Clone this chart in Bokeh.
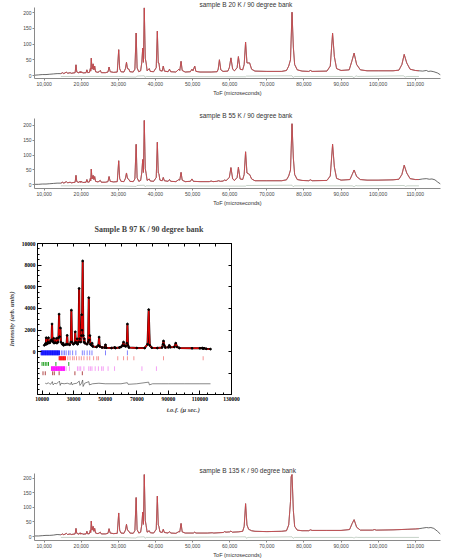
from bokeh.plotting import figure
from bokeh.layouts import column
from bokeh.models import FixedTicker, NumeralTickFormatter, Range1d, LinearAxis
from bokeh.embed import file_html
from bokeh.resources import INLINE

# ------------------------------------------------------------------ data
tof_ticks = [10000, 20000, 30000, 40000, 50000, 60000, 70000, 80000, 90000, 100000, 110000]
count_ticks = [0, 50, 100, 150, 200]

# sample B 20 K  (ToF, counts)
b20_points = [
    (7400, 1), (8500, 2), (9500, 3), (10500, 3), (11500, 4), (12500, 5), (13500, 6), (14500, 6),
    (15000, 9), (15300, 6), (16000, 11), (16300, 7), (17000, 9), (17300, 7), (18350, 9), (18580, 34),
    (18800, 11), (19400, 8), (19700, 13), (19900, 8), (20100, 12), (20400, 8), (21300, 9), (21520, 18),
    (21750, 9), (22200, 10), (22450, 22), (22550, 14), (22700, 55), (22900, 20), (23200, 37), (23400, 18),
    (23620, 30), (23850, 12), (24500, 10), (24800, 12), (25130, 16), (25400, 9), (26500, 9), (27200, 11),
    (27490, 27), (27800, 12), (28700, 10), (29700, 11), (30090, 82), (30350, 22), (30700, 12), (31500, 11),
    (31900, 22), (32190, 42), (32450, 22), (32860, 20), (33100, 12), (34000, 11), (34450, 20), (34790, 135),
    (35050, 24), (35500, 12), (36000, 15), (36300, 40), (36560, 87), (36750, 42), (36980, 215), (37250, 55),
    (37480, 40), (37750, 15), (38320, 22), (38600, 13), (39500, 12), (40200, 25), (40500, 141), (40750, 40),
    (40920, 40), (41200, 16), (41800, 14), (42100, 30), (42400, 14), (43400, 12), (43780, 20), (44100, 12),
    (45500, 11), (46300, 20), (46550, 16), (46890, 45), (47200, 16), (48000, 11), (49400, 12), (49830, 20),
    (50100, 15), (50580, 30), (50900, 13), (52000, 11), (55000, 11), (56600, 12), (56900, 20), (57230, 50),
    (57600, 18), (58200, 13), (59500, 14), (59900, 25), (60330, 56), (60800, 20), (61300, 15), (62000, 25),
    (62340, 60), (62800, 20), (63500, 18), (63900, 35), (64280, 106), (64650, 40), (65370, 40), (65900, 20),
    (66800, 14), (70000, 13), (74000, 13), (75300, 16), (75900, 30), (76380, 50), (76790, 201), (77150, 90),
    (77500, 35), (78200, 18), (79500, 14), (81300, 13), (81750, 16), (82200, 13), (86200, 14), (87100, 30),
    (87720, 134), (88200, 60), (88800, 22), (90000, 16), (92200, 18), (92900, 45), (93520, 71), (94200, 35),
    (95200, 18), (97000, 15), (100000, 15), (104000, 15), (105600, 17), (106400, 35), (107020, 67),
    (107700, 40), (108600, 20), (110000, 16), (111000, 15), (112000, 14), (113000, 16), (113500, 13),
    (114200, 14), (115000, 12), (116000, 8), (116800, 2),
]
b20_diff = [
    (14500, -3), (30000, -3), (34790, -5), (35000, -2), (36980, -1), (37200, -6), (37500, -3),
    (64280, -4), (64500, -2), (76790, -1), (77100, -6), (77500, -3), (93000, -3), (93520, -7),
    (94000, -1), (94500, -3), (106800, -1), (107300, -5), (107800, -3), (111000, -3),
]

# sample B 55 K
b55_points = [
    (7400, 2), (8500, 2), (9500, 3), (10500, 3), (11500, 4), (12500, 5), (13500, 6), (14500, 6),
    (15000, 9), (15300, 6), (16000, 11), (16300, 7), (17000, 9), (17300, 7), (18350, 9), (18580, 32),
    (18800, 11), (19400, 8), (19700, 13), (19900, 8), (20100, 12), (20400, 8), (21300, 9), (21520, 18),
    (21750, 9), (22200, 10), (22450, 22), (22550, 14), (22700, 53), (22900, 20), (23200, 32), (23400, 18),
    (23620, 28), (23850, 12), (24500, 10), (24800, 12), (25130, 15), (25400, 9), (26500, 9), (27200, 11),
    (27490, 28), (27800, 12), (28700, 10), (29700, 11), (30090, 81), (30350, 22), (30700, 12), (31500, 11),
    (31900, 22), (32190, 40), (32450, 22), (32860, 18), (33100, 12), (34000, 11), (34450, 20), (34790, 136),
    (35050, 24), (35500, 12), (36000, 15), (36300, 40), (36560, 85), (36750, 42), (36980, 216), (37250, 55),
    (37480, 38), (37750, 15), (38320, 20), (38600, 13), (39500, 12), (40200, 25), (40500, 143), (40750, 40),
    (40920, 38), (41200, 16), (41800, 14), (42100, 25), (42400, 14), (43400, 12), (43780, 18), (44100, 12),
    (45500, 11), (46300, 18), (46550, 16), (46890, 42), (47200, 16), (48000, 11), (49400, 12), (49830, 20),
    (50200, 12), (52000, 11), (54500, 11), (55000, 13), (55500, 11), (56500, 12), (57000, 14), (57500, 12),
    (58300, 13), (58600, 17), (59000, 14), (59900, 25), (60330, 58), (60800, 20), (61300, 15), (62000, 25),
    (62340, 59), (62800, 20), (63500, 18), (63900, 35), (64280, 111), (64650, 40), (65370, 35), (65900, 20),
    (66800, 14), (70000, 14), (74000, 14), (75300, 17), (75900, 30), (76380, 50), (76790, 205), (77150, 90),
    (77500, 35), (78200, 18), (79500, 15), (81300, 14), (81750, 17), (82200, 14), (86200, 15), (87100, 30),
    (87720, 136), (88200, 60), (88800, 22), (90000, 16), (92400, 18), (93000, 35), (93520, 50), (94200, 28),
    (95200, 18), (97000, 16), (100000, 16), (104000, 17), (105600, 19), (106400, 35), (107020, 66),
    (107700, 40), (108600, 21), (110000, 18), (111000, 18), (112000, 20), (113000, 21), (113800, 19),
    (114500, 20), (115300, 17), (116000, 10), (116800, 3),
]
b55_diff = [
    (14500, -3), (30000, -3), (34790, -5), (35000, -2), (36980, -1), (37200, -6), (37500, -3),
    (64280, -4), (64500, -2), (76790, -1), (77100, -6), (77500, -3), (93000, -3), (93520, -6),
    (94000, -2), (94500, -3), (107000, -2), (107400, -5), (107800, -3), (111000, -3),
]

# sample B 135 K
b135_points = [
    (7400, 2), (8500, 2), (9500, 3), (10500, 4), (11500, 4), (12500, 5), (13500, 7), (14500, 6),
    (15000, 9), (15300, 6), (16000, 11), (16300, 7), (17000, 9), (17300, 7), (18350, 9), (18580, 28),
    (18800, 11), (19400, 8), (19700, 13), (19900, 8), (20100, 12), (20400, 8), (21300, 9), (21520, 18),
    (21750, 9), (22200, 10), (22450, 22), (22550, 14), (22700, 53), (22900, 22), (23200, 35), (23400, 18),
    (23620, 28), (23850, 12), (24500, 10), (24800, 12), (25130, 15), (25400, 9), (26500, 9), (27200, 11),
    (27490, 27), (27800, 12), (28700, 10), (29700, 11), (30090, 81), (30350, 22), (30700, 12), (31500, 11),
    (31900, 22), (32190, 42), (32450, 22), (32860, 18), (33100, 12), (34000, 11), (34450, 20), (34790, 134),
    (35050, 24), (35500, 12), (36000, 15), (36300, 40), (36560, 84), (36750, 42), (36980, 213), (37250, 55),
    (37480, 38), (37750, 15), (38320, 20), (38600, 13), (39500, 12), (40200, 25), (40500, 139), (40750, 40),
    (40920, 35), (41200, 16), (41800, 14), (42100, 25), (42400, 14), (43400, 12), (43780, 17), (44100, 12),
    (45500, 11), (46300, 17), (46550, 16), (46890, 45), (47200, 16), (48000, 12), (50200, 12), (50580, 15),
    (50900, 12), (54000, 12), (55300, 13), (55700, 12), (58300, 14), (58600, 17), (59000, 15), (60000, 16),
    (60330, 19), (60700, 15), (62300, 16), (63500, 18), (63900, 35), (64280, 113), (64650, 40), (65100, 25),
    (65900, 20), (66800, 18), (70000, 17), (74000, 18), (75300, 20), (75900, 40), (76380, 120), (76550, 205),
    (76790, 213), (77150, 90), (77500, 35), (78200, 22), (79500, 20), (81300, 20), (81750, 23), (82200, 21),
    (86000, 21), (90000, 21), (92300, 24), (93000, 45), (93520, 58), (94200, 32), (95200, 22), (98500, 22),
    (99000, 24), (99500, 22), (104000, 23), (108000, 25), (110000, 26), (111000, 27), (112000, 29),
    (113000, 31), (113600, 30), (114200, 31), (115000, 28), (116000, 18), (116800, 8),
]
b135_diff = [
    (14500, -3), (30000, -3), (34790, -5), (35000, -2), (36980, -1), (37200, -6), (37500, -3),
    (64280, -1), (64500, -6), (64900, -3), (76790, -1), (77100, -6), (77500, -3), (93000, -3),
    (93520, -5), (94000, -2), (94500, -3), (111000, -3),
]

# sample B 97 K  (GSAS plot)
b97_points = [
    (11400, 600), (12000, 700), (12400, 800), (12630, 1300), (12900, 700), (13500, 800), (13800, 900),
    (14040, 1300), (14300, 800), (15000, 850), (15500, 1000), (16000, 1100), (16300, 2570), (16600, 1000),
    (17100, 900), (17350, 1250), (17600, 800), (18500, 850), (19150, 1250), (19400, 800), (20000, 900),
    (20400, 1300), (20780, 3480), (21100, 1400), (21630, 2200), (21900, 900), (22800, 700), (23300, 800),
    (23600, 600), (24500, 650), (25500, 700), (25900, 1520), (26200, 700), (27500, 650), (28200, 900),
    (28560, 3850), (28900, 900), (29800, 700), (30700, 800), (31020, 1850), (31300, 900), (31900, 800),
    (32200, 1200), (32500, 700), (33100, 900), (33470, 5850), (33800, 1200), (34500, 900), (34850, 1500),
    (35110, 3430), (35300, 2000), (35720, 8390), (36100, 1500), (36500, 900), (36800, 1200), (37100, 800),
    (38500, 700), (39200, 900), (39580, 5000), (39900, 1100), (40300, 1500), (40600, 700), (41300, 600),
    (41700, 800), (42100, 500), (44500, 450), (45700, 600), (46130, 1360), (46500, 500), (48000, 400),
    (49700, 400), (50170, 650), (50600, 380), (54000, 350), (56000, 400), (56500, 350), (59000, 400),
    (60000, 450), (61000, 600), (61620, 900), (62000, 550), (63000, 500), (63700, 800), (64070, 2570),
    (64400, 600), (65000, 400), (70000, 350), (75000, 350), (76800, 700), (77540, 3900), (78200, 600),
    (79500, 380), (83000, 350), (86000, 400), (86600, 700), (86920, 1000), (87400, 600), (88000, 400),
    (90000, 420), (90590, 600), (91100, 420), (93800, 450), (94690, 800), (95500, 450), (97000, 350),
    (105000, 330), (110000, 330), (111500, 350), (112000, 300), (112600, 330), (114000, 280), (116700, 250),
]
b97_diff = [
    (12000, -2900), (13000, -2950), (14000, -2850), (15000, -3000), (16000, -2900), (16500, -2750),
    (17000, -3050), (18000, -2900), (19000, -2950), (20000, -2850), (21000, -2700), (21500, -3100),
    (22000, -2900), (24000, -2950), (26000, -2900), (28000, -3000), (28600, -2800), (29000, -3050),
    (30000, -2950), (32000, -2900), (33500, -2700), (34000, -3100), (35000, -2900), (35700, -2600),
    (36000, -3200), (37000, -2900), (39600, -2750), (40000, -3050), (42000, -2950), (46000, -2900),
    (50000, -2950), (60000, -2950), (64000, -2850), (64500, -3000), (70000, -2950), (77500, -2800),
    (78000, -3050), (80000, -2950), (90000, -2950), (100000, -2950), (110000, -2950), (116700, -2950),
]

# reflection markers (ToF) for the five phases of the 97 K fit
refl_blue_dense = [9400, 9800, 10200, 10600, 11000, 11400, 11800, 12200, 12600, 13000, 13400, 13800,
                   14200, 14600, 15000, 15400, 15800, 16200, 16600, 17000, 17400, 17800, 18200, 18600,
                   19000, 19400, 19800, 20200, 20600, 21000]
refl_blue = [22220, 23240, 24260, 25280, 26710, 27730, 29360, 31400, 35490, 36710, 38550, 40180,
             41610, 50180, 64060]
refl_red_dense = [20800, 21200, 21600, 22000, 22400, 22800, 23200, 23600, 24000, 24400, 24800]
refl_red = [26310, 27730, 29360, 30380, 31810, 33440, 34870, 36500, 38550, 40180, 42630, 44670,
            45690, 57940, 61620, 64060, 68150, 86930, 112040]
refl_green = [9980, 11000, 12020, 13040, 14060, 18760, 26920]
refl_magenta_dense = [15950, 16350, 16750, 17150, 17550, 17950, 18350, 18750, 19150, 19550, 19950,
                      20350, 20750, 21150, 21550, 21950, 22350, 22750, 23150, 23550, 23950, 24260]
refl_magenta = [25280, 27320, 32430, 33440, 34460, 36500, 39570, 40590, 41610, 43650, 45690,
                47740, 48760, 51820, 55900, 73260, 82450]
refl_brown = [10590, 12020, 16710, 17740, 20800, 30800, 35490]

gsas_xticks = [10000, 30000, 50000, 70000, 90000, 110000, 130000]
gsas_xminor = list(range(5000, 131000, 5000))
gsas_yticks = [0, 2000, 4000, 6000, 8000, 10000]
gsas_yminor = list(range(-3500, 10001, 500))
gsas_frame_xticks = list(range(10000, 131000, 10000))
gsas_frame_yticks = list(range(-2000, 10001, 2000))

# ------------------------------------------------------------------ drawing
SANS = "Liberation Sans"
SERIF = "Liberation Serif"
SHIFT = 3


def unzip(pts):
    return [a for a, b in pts], [b for a, b in pts]


def tof_panel(title, pts, diff_pts, height, top, bottom, ylo, yhi):
    p = figure(width=452 + SHIFT, height=height, output_backend="svg", toolbar_location=None,
               x_range=Range1d(7400, 116800), y_range=Range1d(ylo, yhi),
               min_border_left=12, min_border_right=9, min_border_top=top, min_border_bottom=bottom,
               margin=(0, 0, 0, -SHIFT))
    p.title.text = title
    p.title.text_font = SANS
    p.title.text_font_size = "6.5px"
    p.title.text_font_style = "normal"
    p.title.text_color = "#333333"
    p.title.align = "left"
    p.title.offset = 165
    p.title.standoff = -3
    p.title.vertical_align = "middle"
    p.grid.visible = False
    p.outline_line_color = None
    p.background_fill_color = "white"

    tof, cnt = unzip(pts)
    p.line(tof, cnt, line_color="#2a2a2a", line_width=0.7)
    calc = [(a, b) for a, b in pts if 14500 <= a <= 111000]
    ct, cc = unzip(calc)
    p.line(ct, cc, line_color="#e2474d", line_width=0.8, line_alpha=0.9)
    dt, dc = unzip(diff_pts)
    p.line(dt, dc, line_color="#9fb3a3", line_width=0.6)

    for ax in (p.xaxis[0], p.yaxis[0]):
        ax.axis_line_color = "#8a8a8a"
        ax.major_tick_line_color = "#8a8a8a"
        ax.major_tick_out = 2
        ax.major_tick_in = 0
        ax.minor_tick_line_color = None
        ax.major_label_text_font = SANS
        ax.major_label_text_font_size = "5px"
        ax.major_label_text_color = "#444444"
        ax.major_label_standoff = 1
    p.xaxis.ticker = FixedTicker(ticks=tof_ticks)
    p.xaxis.formatter = NumeralTickFormatter(format="0,0")
    p.xaxis.axis_label = "ToF (microseconds)"
    p.xaxis.axis_label_text_font = SANS
    p.xaxis.axis_label_text_font_size = "5.5px"
    p.xaxis.axis_label_text_font_style = "normal"
    p.xaxis.axis_label_text_color = "#333333"
    p.xaxis.axis_label_standoff = 1
    p.yaxis.ticker = FixedTicker(ticks=count_ticks)
    return p


p1 = tof_panel("sample B 20 K / 90 degree bank", b20_points, b20_diff, 104, 7, 26, -9.5, 216)
p2 = tof_panel("sample B 55 K / 90 degree bank", b55_points, b55_diff, 104, 14, 17, -12, 222.5)
p4 = tof_panel("sample B 135 K / 90 degree bank", b135_points, b135_diff, 100, 13, 14, -13.6, 216.7)

# ---- GSAS style panel
p3 = figure(width=240, height=252, output_backend="svg", toolbar_location=None,
            x_range=Range1d(7100, 130000), y_range=Range1d(-3940, 10000),
            min_border_left=37, min_border_right=2, min_border_top=35, min_border_bottom=66)
p3.grid.visible = False
p3.outline_line_color = "black"
p3.outline_line_width = 1
p3.title.text = "Sample B 97 K / 90 degree bank"
p3.title.text_font = SERIF
p3.title.text_font_size = "8px"
p3.title.text_font_style = "bold"
p3.title.align = "left"
p3.title.offset = 57
p3.title.standoff = 17
p3.title.vertical_align = "middle"

t97, c97 = unzip(b97_points)
p3.line(t97, c97, line_color="#1a0000", line_width=2.0)
p3.line(t97, c97, line_color="#e00000", line_width=1.3)
p3.scatter(t97, c97, size=1.8, color="black")
dt97, dc97 = unzip(b97_diff)
p3.line(dt97, dc97, line_color="#555555", line_width=0.7)


def refl(xs, y0, y1, color, alpha=1.0):
    p3.segment(x0=xs, y0=[y0] * len(xs), x1=xs, y1=[y1] * len(xs),
               line_color=color, line_width=1, line_alpha=alpha)


refl(refl_blue_dense, 130, -320, "#1010ff")
refl(refl_blue, 130, -320, "#3030ff", 0.6)
refl(refl_red_dense, -410, -780, "#ff1010")
refl(refl_red, -410, -780, "#ee5050", 0.6)
refl(refl_green, -940, -1300, "#20a020")
refl(refl_magenta_dense, -1340, -1760, "#ff10ff")
refl(refl_magenta, -1340, -1760, "#ee60ee", 0.6)
refl(refl_brown, -1800, -2160, "#b04848")

xa = p3.xaxis[0]
ya = p3.yaxis[0]
xa.ticker = FixedTicker(ticks=gsas_xticks, minor_ticks=gsas_xminor)
xa.formatter = NumeralTickFormatter(format="0")
ya.ticker = FixedTicker(ticks=gsas_yticks, minor_ticks=gsas_yminor)
ya.formatter = NumeralTickFormatter(format="0")
for ax in (xa, ya):
    ax.axis_line_color = "black"
    ax.major_tick_in = 4
    ax.major_tick_out = 0
    ax.minor_tick_in = 2
    ax.minor_tick_out = 0
    ax.major_label_text_font = SERIF
    ax.major_label_text_font_size = "5.5px"
    ax.major_label_text_font_style = "bold"
    ax.major_label_text_color = "black"
    ax.major_label_standoff = 2
ya.axis_label = "Intensity (arb. units)"
ya.axis_label_text_font = SERIF
ya.axis_label_text_font_size = "6.5px"
ya.axis_label_text_font_style = "bold italic"
ya.axis_label_standoff = 4
# x title sits right of the frame centre in the original; padded with em spaces
xa.axis_label = "\u2003" * 15 + "t.o.f. (\u03bc sec.)"
xa.axis_label_text_font = SERIF
xa.axis_label_text_font_size = "6.5px"
xa.axis_label_text_font_style = "bold italic"
xa.axis_label_standoff = 2

for side in ("above", "right"):
    ticks = gsas_frame_xticks if side == "above" else gsas_frame_yticks
    ax = LinearAxis(ticker=FixedTicker(ticks=[], minor_ticks=ticks),
                    major_tick_in=0, major_tick_out=0, minor_tick_in=3, minor_tick_out=0,
                    major_label_standoff=0, axis_line_color="black")
    p3.add_layout(ax, side)

layout = column(p1, p2, p3, p4, spacing=0)
open("out.html", "w").write(file_html(layout, INLINE))
